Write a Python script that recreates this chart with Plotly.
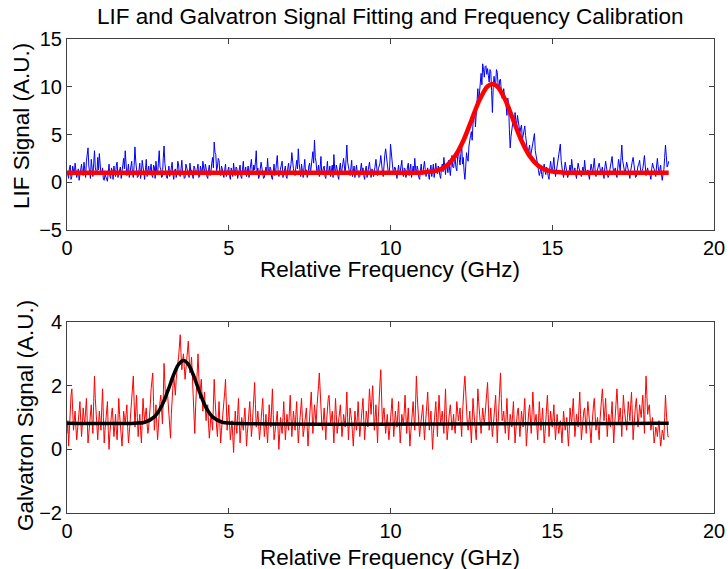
import numpy as np
import plotly.graph_objects as go

# ---- data ----
# samples on the 0.05 GHz grid (0 .. 18.6 GHz)
lif_signal = [
    1.2, 0.4, 1.8, 0.6, 1.1, 2.0, 0.5, 1.4, 0.9, 1.9, 0.7, 1.5, 2.2, 3.6, 1.0, 2.4, 0.6, 3.3, 1.2, 2.6,
    3.0, 0.8, 1.5, 0.2, 0.5, 0.1, 1.9, 0.4, 1.2, 1.7, 0.6, 2.1, 0.9, 1.6, 1.0, 2.5, 3.3, 0.7, 1.9, 1.1,
    2.2, 0.5, 3.7, 1.4, 0.6, 2.0, 1.0, 1.7, 0.3, 2.4, 1.2, 0.8, 1.9, 0.5, 1.6, 2.2, 0.9, 3.3, 1.3, 0.6,
    3.8, 1.1, 0.4, 1.7, 0.9, 2.1, 0.3, 1.4, 1.0, 1.8, 0.6, 2.3, 1.1, 0.5, 1.6, 0.9, 2.0, 1.3, 0.4, 1.5,
    0.8, 1.9, 0.6, 1.3, 2.2, 0.9, 1.5, 0.4, 1.8, 1.1, 2.6, 4.2, 2.9, 1.6, 2.3, 0.7, 1.4, 0.5, 1.9, 1.0,
    1.6, 0.3, 1.2, 2.0, 0.7, 1.5, 0.9, 1.8, 0.4, 2.2, 1.1, 0.6, 1.7, 1.0, 2.4, 0.8, 1.3, 3.3, 1.5, 0.7,
    2.1, 1.0, 0.5, 1.6, 2.5, 0.8, 1.4, 0.3, 1.9, 1.1, 2.8, 0.6, 1.3, 2.2, 0.9, 1.7, 0.4, 2.0, 1.2, 3.1,
    1.4, 0.7, 2.3, 3.5, 1.0, 1.9, 0.5, 2.4, 1.3, 0.8, 2.0, 1.5, 3.2, 4.4, 2.1, 1.2, 0.6, 2.7, 1.0, 1.7,
    0.4, 2.2, 1.1, 0.6, 1.8, 2.9, 0.9, 1.4, 0.3, 2.0, 1.2, 2.5, 0.8, 3.9, 1.6, 0.7, 2.3, 1.0, 0.5, 1.8,
    1.2, 0.6, 2.0, 1.5, 0.3, 1.7, 0.9, 2.1, 0.5, 1.3, 1.0, 2.4, 0.7, 1.6, 2.8, 1.1, 2.2, 3.5, 1.9, 0.8,
    4.0, 2.1, 0.9, 1.5, 0.4, 1.8, 1.1, 2.3, 0.6, 1.4, 0.8, 2.0, 1.2, 0.5, 1.7, 2.5, 0.9, 1.3, 0.3, 1.9,
    1.0, 2.2, 0.6, 1.5, 0.3, 1.8, 1.2, 0.5, 2.0, 0.9, 1.4, 0.4, 1.9, 2.6, 0.8, 1.6, 2.3, 0.7, 2.8, 1.5,
    2.4, 1.2, 3.6, 1.8, 4.2, 2.6, 0.3, 3.1, 2.2, 4.6, 5.3, 6.1, 7.6, 6.9, 9.8, 9.1, 11.4, 12.4, 11.0, 12.2,
    11.9, 10.5, 11.6, 7.3, 11.1, 10.2, 11.5, 9.6, 10.8, 8.8, 9.8, 8.7, 7.0, 8.2, 3.6, 5.4, 6.8, 7.3, 5.9, 6.3,
    5.2, 6.0, 4.8, 5.9, 4.2, 2.8, 3.9, 3.2, 4.3, 5.1, 2.6, 1.8, 0.7, 1.5, 0.4, 1.9, 0.8, 1.3, 0.3, 2.2,
    1.0, 2.6, 0.6, 1.7, 3.0, 4.0, 1.4, 0.5, 2.1, 1.1, 0.7, 1.8, 2.4, 0.9, 1.5, 0.4, 2.0, 1.2, 0.6, 1.6,
    2.3, 0.8, 1.3, 0.3, 1.9, 1.0, 2.5, 0.6, 1.4, 2.0, 0.9, 1.6, 0.4, 2.2, 1.1, 0.7, 1.8, 2.7, 1.0, 1.5,
    0.5, 2.4, 1.2, 3.9, 1.6, 0.8, 2.1, 1.3, 0.4, 1.9, 2.6, 1.0, 0.6, 1.7, 2.3, 0.9, 1.4, 2.8, 0.7, 1.5,
    1.1, 0.3, 2.0, 1.4, 0.6, 2.5, 1.0, 1.8, 0.2, 1.3, 3.9, 1.6, 2.2,
]
# samples at the half-way points (0.025, 0.075, ... 18.575 GHz)
lif_signal_mid = [
    0.6, 1.5, 0.3, 1.7, 0.8, 1.3, 0.9, 0.2, 1.6, 1.0, 2.1, 0.5, 2.8, 1.7, 0.4, 1.4, 2.0, 1.5, 0.8, 1.3,
    1.6, 0.9, 0.3, 0.8, 0.2, 1.1, 0.6, 1.5, 0.3, 1.0, 1.8, 0.5, 1.3, 0.4, 1.7, 1.4, 2.0, 1.2, 0.5, 1.6,
    0.9, 1.8, 2.2, 0.5, 1.5, 0.4, 2.3, 0.8, 1.3, 0.6, 1.7, 1.4, 0.7, 1.8, 0.4, 1.1, 2.0, 1.6, 0.5, 2.5,
    2.0, 0.5, 1.3, 0.6, 1.5, 0.8, 1.2, 0.5, 2.2, 0.7, 1.4, 0.9, 0.4, 1.9, 1.1, 0.5, 1.2, 0.6, 1.7, 0.9,
    1.4, 0.5, 1.7, 0.8, 1.1, 1.9, 0.6, 1.3, 0.7, 2.0, 1.5, 3.1, 1.2, 2.5, 0.9, 1.7, 0.8, 1.3, 0.6, 1.5,
    0.7, 1.5, 0.6, 1.1, 1.6, 0.4, 1.7, 0.6, 1.3, 0.8, 1.6, 1.3, 0.5, 1.9, 1.2, 1.8, 2.1, 1.0, 0.4, 1.4,
    1.5, 0.4, 1.3, 0.9, 1.2, 1.6, 0.5, 1.1, 0.7, 2.0, 1.3, 1.0, 1.8, 0.5, 1.4, 0.6, 1.5, 0.8, 1.9, 1.6,
    0.9, 1.6, 1.4, 2.0, 0.6, 1.2, 1.5, 0.9, 0.5, 1.7, 0.9, 2.4, 2.0, 2.6, 1.0, 1.8, 1.5, 0.8, 1.5, 0.6,
    1.3, 0.8, 1.7, 1.3, 0.5, 1.4, 1.8, 0.6, 1.5, 0.8, 1.9, 1.0, 2.4, 2.1, 0.9, 1.5, 0.6, 1.7, 1.2, 0.9,
    0.5, 1.4, 1.1, 0.7, 1.3, 0.5, 1.6, 1.0, 1.4, 0.6, 1.7, 1.2, 1.4, 2.0, 1.5, 0.6, 2.9, 2.4, 1.2, 1.6,
    2.7, 1.3, 1.6, 0.7, 1.2, 0.8, 1.7, 1.0, 1.5, 0.5, 1.6, 0.7, 1.9, 1.1, 0.8, 1.4, 1.7, 0.5, 1.2, 0.8,
    1.6, 1.3, 1.2, 0.8, 1.3, 0.6, 1.9, 1.1, 1.2, 1.7, 0.7, 1.5, 1.1, 1.7, 1.9, 1.0, 1.4, 1.8, 1.6, 2.2,
    1.5, 2.7, 2.4, 3.0, 1.9, 1.1, 1.6, 2.5, 3.8, 4.9, 4.4, 7.0, 5.8, 8.5, 8.3, 10.6, 10.2, 11.8, 12.1, 11.3,
    11.2, 11.8, 9.6, 9.9, 10.4, 11.8, 10.3, 10.7, 9.5, 9.3, 9.0, 7.9, 8.8, 5.5, 4.8, 6.2, 5.9, 6.5, 7.0, 5.6,
    5.7, 4.4, 5.3, 4.9, 3.4, 3.5, 2.6, 3.7, 4.6, 3.3, 2.2, 1.2, 1.1, 0.8, 1.3, 1.2, 1.6, 0.6, 1.5, 1.4,
    1.8, 1.3, 1.1, 2.2, 3.3, 2.3, 0.9, 1.3, 1.6, 0.5, 1.4, 1.0, 1.6, 1.2, 0.8, 1.3, 1.5, 0.9, 1.2, 1.0,
    1.4, 1.1, 0.8, 1.2, 1.4, 1.7, 1.3, 1.0, 1.7, 1.5, 1.2, 0.9, 1.5, 1.6, 0.5, 1.3, 2.2, 1.6, 1.3, 0.8,
    1.5, 1.8, 2.6, 2.3, 1.1, 1.5, 1.7, 0.8, 1.2, 2.2, 1.6, 0.5, 1.3, 1.9, 1.5, 1.2, 2.1, 1.7, 1.2, 0.8,
    0.7, 1.4, 1.6, 0.9, 1.7, 1.6, 1.3, 0.9, 0.8, 2.6, 2.8, 1.8,
]

galv_signal = [
    0.5, 0.1, 1.4, 1.9, 0.6, 1.2, 0.3, 1.0, 1.5, 0.4, 1.3, 0.8, 1.6, 0.2, 0.9, 1.4, 0.5, 2.3, 1.1, 0.3,
    1.2, 0.6, 1.9, 0.2, 1.0, 1.5, 0.0, 0.9, 1.3, 0.4, 1.1, 0.3, 1.6, 0.7, 0.1, 1.2, 0.8, 1.4, 0.2, 0.9,
    1.5, 2.3, 0.7, 1.7, 0.4, 1.1, 0.2, 1.6, 0.9, 1.3, 0.5, 1.0, 1.9, 2.4, 0.6, 1.4, 0.3, 1.2, 1.7, 0.8,
    2.7, 1.5, 1.9, 1.2, 0.35, 1.8, 2.3, 1.7, 2.6, 2.9, 3.6, 2.5, 3.0, 2.2, 2.8, 3.4, 2.4, 2.9, 1.8, 0.5,
    2.1, 3.0, 1.6, 2.2, 1.2, 1.8, 0.9, 1.4, 0.35, 1.1, 0.6, 2.2, 1.0, 0.4, 1.5, 0.2, 0.9, 1.3, 2.2, 0.6,
    1.4, 0.3, 0.9, -0.1, 1.2, 0.5, 1.6, 0.2, 1.0, 0.6, 1.3, 0.1, 0.8, 1.5, 0.4, 1.1, 2.1, 0.7, 1.2, 0.3,
    0.9, 1.6, 0.4, 1.1, 0.2, 1.4, 0.7, 1.9, 0.3, 0.8, 1.2, 0.0, 1.0, 0.5, 1.5, 0.3, 1.1, 0.6, 1.7, 0.4,
    1.2, 0.6, 1.5, 0.2, 1.0, 1.6, 0.4, 0.9, 1.3, 0.1, 1.1, 1.8, 0.5, 1.4, 0.8, 1.9, 2.4, 1.0, 0.6, 1.3,
    0.3, 1.5, 1.7, 0.8, 1.2, 0.2, 1.6, 0.5, 1.0, 1.4, 0.4, 1.1, 0.7, 1.8, 0.3, 1.3, 0.9, 0.1, 1.2, 0.6,
    1.5, 0.4, 1.0, 1.6, 0.3, 1.2, 0.7, 1.9, 1.1, 2.0, 0.6, 1.4, 0.2, 1.8, 2.5, 0.8, 1.3, 0.5, 1.1, 0.3,
    1.0, 1.6, 0.4, 1.2, 0.7, 1.5, 0.2, 1.1, 0.8, 1.7, 0.5, 1.3, 0.1, 0.9, 1.5, 0.6, 2.3, 1.2, 0.4, 1.0,
    1.4, 0.3, 1.1, 1.8, 0.6, 1.2, 0.0, 0.9, 1.5, 0.4, 1.7, 0.8, 1.2, 0.5, 1.9, 0.3, 1.0, 1.4, 0.6, 1.1,
    0.5, 1.5, 0.9, 1.3, 0.4, 1.8, 2.3, 1.0, 0.6, 1.2, 0.2, 1.6, 0.9, 0.3, 1.9, 1.1, 0.5, 1.3, 0.8, 1.5,
    2.1, 0.6, 1.3, 0.4, 1.0, 1.7, 0.2, 1.4, 2.4, 0.9, 1.2, 0.5, 1.6, 0.3, 1.1, 0.7, 1.5, 0.2, 1.0, 1.3,
    0.4, 1.2, 0.7, 1.6, 0.1, 1.0, 1.4, 0.5, 1.8, 0.8, 1.1, 0.3, 1.5, 0.6, 1.3, 0.2, 0.9, 1.7, 0.4, 1.2,
    0.7, 1.4, 0.3, 1.1, 0.5, 0.9, 0.2, 1.2, 0.6, 1.0, 0.1, 1.3, 0.8, 1.6, 0.4, 1.1, 0.7, 1.8, 0.3, 1.0,
    1.3, 0.5, 1.5, 0.8, 0.2, 1.2, 1.6, 0.6, 1.0, 0.3, 1.4, 1.9, 0.9, 1.6, 0.4, 1.1, 0.7, 1.5, 0.2, 1.2,
    1.9, 0.8, 1.3, 0.4, 1.7, 1.0, 0.6, 1.5, 0.9, 1.8, 0.3, 1.2, 1.6, 0.7, 1.4, 1.0, 1.7, 0.5, 2.3, 1.1,
    1.4, 0.6, 1.0, 0.2, 0.7, 0.4, 0.9, 0.1, 0.6, 0.3, 1.7, 0.5, 0.4,
]
galv_signal_mid = [
    0.9, 0.7, 1.7, 1.1, 0.9, 0.7, 0.6, 1.2, 0.9, 0.8, 1.0, 1.2, 0.9, 0.5, 1.1, 0.9, 1.5, 1.6, 0.6, 0.8,
    0.9, 1.3, 1.0, 0.6, 1.2, 0.6, 0.5, 1.1, 0.8, 0.7, 0.6, 0.9, 1.1, 0.4, 0.6, 1.0, 1.1, 0.7, 0.5, 1.2,
    1.9, 1.5, 1.2, 1.0, 0.8, 0.6, 0.9, 1.2, 1.1, 0.8, 0.7, 1.4, 2.1, 1.5, 1.0, 0.8, 0.7, 1.5, 1.3, 1.6,
    2.1, 1.7, 1.5, 0.8, 1.1, 2.0, 2.0, 2.2, 2.7, 3.2, 3.0, 2.8, 2.6, 2.5, 3.1, 2.9, 2.6, 2.3, 1.2, 1.3,
    2.6, 2.3, 1.9, 1.7, 1.5, 1.3, 1.2, 0.8, 0.7, 0.9, 1.4, 1.6, 0.7, 0.9, 0.8, 0.6, 1.1, 1.8, 1.4, 1.0,
    0.8, 0.6, 0.4, 0.6, 0.8, 1.1, 0.9, 0.6, 0.8, 1.0, 0.7, 0.5, 1.1, 1.0, 0.7, 1.6, 1.4, 0.9, 0.8, 0.6,
    1.2, 1.0, 0.7, 0.6, 0.8, 1.0, 1.3, 1.1, 0.5, 1.0, 0.6, 0.5, 0.7, 1.0, 0.9, 0.7, 0.8, 1.2, 1.0, 0.8,
    0.9, 1.1, 0.8, 0.6, 1.3, 1.0, 0.6, 1.1, 0.7, 0.6, 1.4, 1.2, 0.9, 1.1, 1.3, 2.0, 1.7, 0.8, 0.9, 0.8,
    0.9, 1.6, 1.2, 1.0, 0.7, 0.9, 1.1, 0.7, 1.2, 0.9, 0.7, 0.9, 1.2, 1.0, 0.8, 1.1, 0.5, 0.6, 0.9, 1.0,
    0.9, 0.7, 1.3, 0.9, 0.7, 1.0, 1.3, 1.5, 1.6, 1.3, 1.0, 0.8, 1.0, 2.1, 1.6, 1.1, 0.9, 0.8, 0.7, 0.6,
    1.3, 1.0, 0.8, 0.9, 1.1, 0.8, 0.6, 0.9, 1.2, 1.1, 0.9, 0.7, 0.5, 1.2, 1.0, 1.4, 1.7, 0.8, 0.7, 1.2,
    0.8, 0.7, 1.4, 1.2, 0.9, 0.6, 0.5, 1.2, 1.0, 1.1, 1.2, 1.0, 0.8, 1.2, 1.1, 0.6, 1.2, 1.0, 0.8, 0.7,
    1.0, 1.2, 1.1, 0.8, 1.1, 2.0, 1.6, 0.8, 0.9, 0.7, 0.9, 1.2, 0.6, 1.1, 1.5, 0.8, 0.9, 1.0, 1.1, 1.8,
    1.4, 0.9, 0.8, 0.7, 1.3, 1.0, 0.8, 1.9, 1.6, 1.0, 0.8, 1.1, 0.9, 0.7, 0.9, 1.1, 0.8, 0.6, 1.2, 0.9,
    0.8, 0.9, 1.2, 0.9, 0.5, 1.2, 0.9, 1.1, 1.3, 0.9, 0.7, 0.9, 1.0, 0.9, 0.8, 0.5, 1.3, 1.1, 0.8, 0.9,
    1.0, 0.8, 0.7, 0.8, 0.7, 0.6, 0.7, 0.9, 0.8, 0.5, 0.6, 1.0, 1.2, 1.0, 0.7, 0.9, 1.3, 1.1, 0.6, 1.2,
    0.9, 1.0, 1.2, 0.5, 0.7, 1.4, 1.1, 0.8, 0.6, 0.9, 1.6, 1.4, 1.2, 1.0, 0.8, 0.9, 1.1, 0.8, 0.7, 1.5,
    1.4, 1.0, 0.9, 1.1, 1.3, 0.8, 1.0, 1.2, 1.4, 1.1, 0.7, 1.4, 1.1, 1.0, 1.2, 1.4, 1.1, 1.6, 1.7, 1.3,
    1.0, 0.8, 0.6, 0.4, 0.6, 0.7, 0.5, 0.3, 0.5, 1.0, 1.2, 0.4,
]

# fitted curves at selected frequencies
lif_fit_x = [0, 10.5, 11.0, 11.5, 11.75, 12.0, 12.25, 12.5, 12.75, 13.0, 13.15, 13.3,
             13.55, 13.8, 14.05, 14.3, 14.55, 14.8, 15.05, 15.3, 15.6, 18.6]
lif_fit_y = [1.0, 1.0, 1.03, 1.30, 1.79, 2.76, 4.35, 6.46, 8.60, 10.04, 10.3, 10.04,
             8.60, 6.46, 4.35, 2.76, 1.79, 1.30, 1.10, 1.03, 1.0, 1.0]

galv_fit_x = [0, 2.1, 2.4, 2.7, 2.9, 3.1, 3.3, 3.45, 3.6, 3.75, 3.9, 4.1, 4.3, 4.5,
              4.8, 5.1, 18.6]
galv_fit_y = [0.82, 0.82, 0.85, 1.02, 1.31, 1.79, 2.35, 2.67, 2.79, 2.67, 2.35, 1.79,
              1.31, 1.02, 0.85, 0.82, 0.82]

x_ticks = [0, 5, 10, 15, 20]
lif_y_ticks = [-5, 0, 5, 10, 15]
galv_y_ticks = [-2, 0, 2, 4]

title_text = "LIF and Galvatron Signal Fitting and Frequency Calibration"
x_title = "Relative Frequency (GHz)"
lif_y_title = "LIF Signal (A.U.)"
galv_y_title = "Galvatron Signal (A.U.)"


def merge(main, mid):
    out = []
    for a, b in zip(main, mid):
        out.extend([a, b])
    out.append(main[-1])
    return out


lif_all = merge(lif_signal, lif_signal_mid)
galv_all = merge(galv_signal, galv_signal_mid)
freq = np.round(np.arange(len(lif_all)) * 0.025, 3)

FONT = "Liberation Sans, Arial, sans-serif"
TICK_SIZE = 20
LABEL_SIZE = 22.5

fig = go.Figure()
fig.add_trace(go.Scatter(x=freq, y=lif_all, mode="lines",
                         line=dict(color="#0000FF", width=1), xaxis="x", yaxis="y"))
fig.add_trace(go.Scatter(x=lif_fit_x, y=lif_fit_y, mode="lines",
                         line=dict(color="#FF0000", width=4.5, shape="spline"),
                         xaxis="x", yaxis="y"))
fig.add_trace(go.Scatter(x=freq[:len(galv_all)], y=galv_all, mode="lines",
                         line=dict(color="#FF0000", width=1), xaxis="x2", yaxis="y2"))
fig.add_trace(go.Scatter(x=galv_fit_x, y=galv_fit_y, mode="lines",
                         line=dict(color="#000000", width=3.5, shape="spline"),
                         xaxis="x2", yaxis="y2"))

W, H = 728, 569


def py(pix):  # pixel row -> paper y
    return 1 - pix / H


xd = [67 / W, 714 / W]
y1d = [py(230), py(39)]
y2d = [py(513), py(322)]

axis_common = dict(showline=True, linecolor="#404040", linewidth=1, mirror="ticks",
                   ticks="inside", ticklen=5, tickcolor="#404040", showgrid=False,
                   zeroline=False, automargin=False,
                   tickfont=dict(family=FONT, size=TICK_SIZE, color="black"))

label_font = dict(family=FONT, size=LABEL_SIZE, color="black")
annotations = [
    dict(text=title_text, x=390 / W, y=py(16), xref="paper", yref="paper",
         xanchor="center", yanchor="middle", showarrow=False, font=label_font),
    dict(text=x_title, x=390 / W, y=py(269), xref="paper", yref="paper",
         xanchor="center", yanchor="middle", showarrow=False, font=label_font),
    dict(text=x_title, x=390 / W, y=py(557), xref="paper", yref="paper",
         xanchor="center", yanchor="middle", showarrow=False, font=label_font),
    dict(text=lif_y_title, x=22 / W, y=py(126), xref="paper", yref="paper",
         xanchor="center", yanchor="middle", textangle=-90, showarrow=False, font=label_font),
    dict(text=galv_y_title, x=25 / W, y=py(416), xref="paper", yref="paper",
         xanchor="center", yanchor="middle", textangle=-90, showarrow=False, font=label_font),
]

fig.update_layout(
    width=W, height=H,
    margin=dict(l=0, r=0, t=0, b=0, autoexpand=False),
    paper_bgcolor="white", plot_bgcolor="white",
    showlegend=False,
    font=dict(family=FONT, color="black"),
    annotations=annotations,
    xaxis=dict(domain=xd, range=[0, 20], tickvals=x_ticks, anchor="y", **axis_common),
    yaxis=dict(domain=y1d, range=[-5, 15], tickvals=lif_y_ticks, anchor="x", **axis_common),
    xaxis2=dict(domain=xd, range=[0, 20], tickvals=x_ticks, anchor="y2", **axis_common),
    yaxis2=dict(domain=y2d, range=[-2, 4], tickvals=galv_y_ticks, anchor="x2", **axis_common),
)

fig.write_html("out.html")
